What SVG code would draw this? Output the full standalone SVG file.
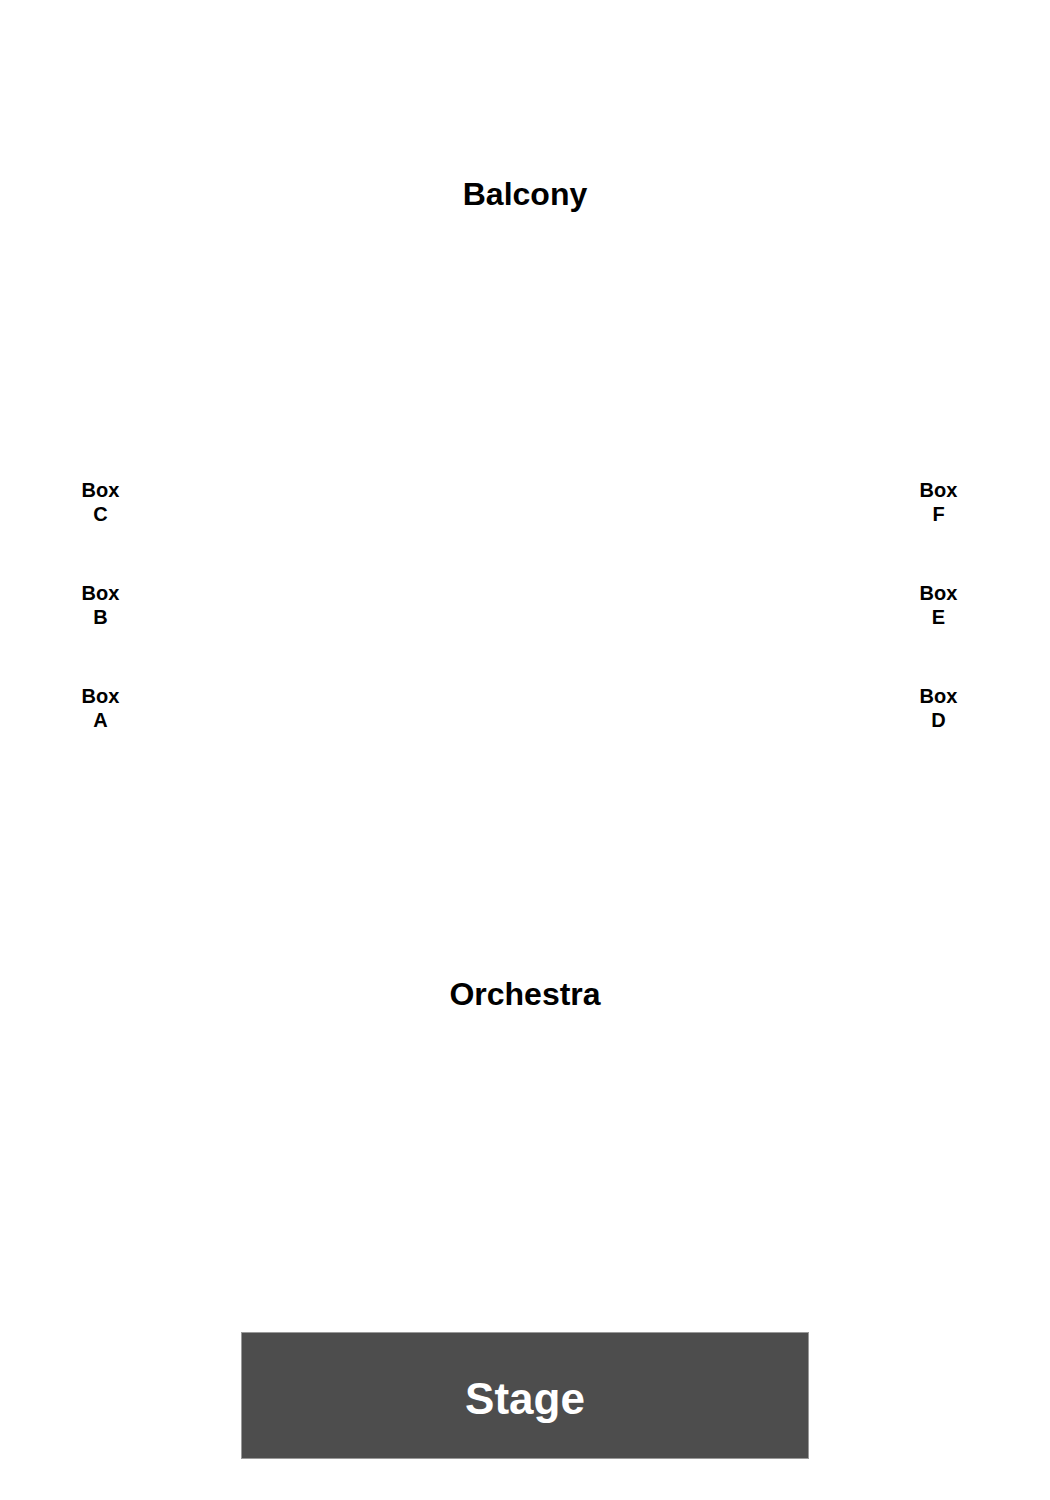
<svg xmlns="http://www.w3.org/2000/svg" width="1050" height="1500" viewBox="0 0 1050 1500">
<style>
text{font-family:"Liberation Sans",Arial,sans-serif;font-weight:bold;text-anchor:middle}
.sec{font-size:32px;fill:#000}
.box{font-size:20px;fill:#000}
.stage{font-size:44px;fill:#fff}
</style>
<rect width="1050" height="1500" fill="#fff"/>
<g id="balcony"><text class="sec" x="525" y="205">Balcony</text></g>
<g id="box-c"><text class="box" x="100.5" y="497">Box</text><text class="box" x="100.5" y="521">C</text></g>
<g id="box-b"><text class="box" x="100.5" y="600">Box</text><text class="box" x="100.5" y="624">B</text></g>
<g id="box-a"><text class="box" x="100.5" y="703">Box</text><text class="box" x="100.5" y="727">A</text></g>
<g id="box-f"><text class="box" x="938.5" y="497">Box</text><text class="box" x="938.5" y="521">F</text></g>
<g id="box-e"><text class="box" x="938.5" y="600">Box</text><text class="box" x="938.5" y="624">E</text></g>
<g id="box-d"><text class="box" x="938.5" y="703">Box</text><text class="box" x="938.5" y="727">D</text></g>
<g id="orchestra"><text class="sec" x="525" y="1005">Orchestra</text></g>
<g id="stage"><rect x="241.5" y="1332.5" width="567" height="126" fill="#4d4d4d" stroke="#999" stroke-width="1"/><text class="stage" x="525" y="1414">Stage</text></g>
<g id="connectors"/>
</svg>
